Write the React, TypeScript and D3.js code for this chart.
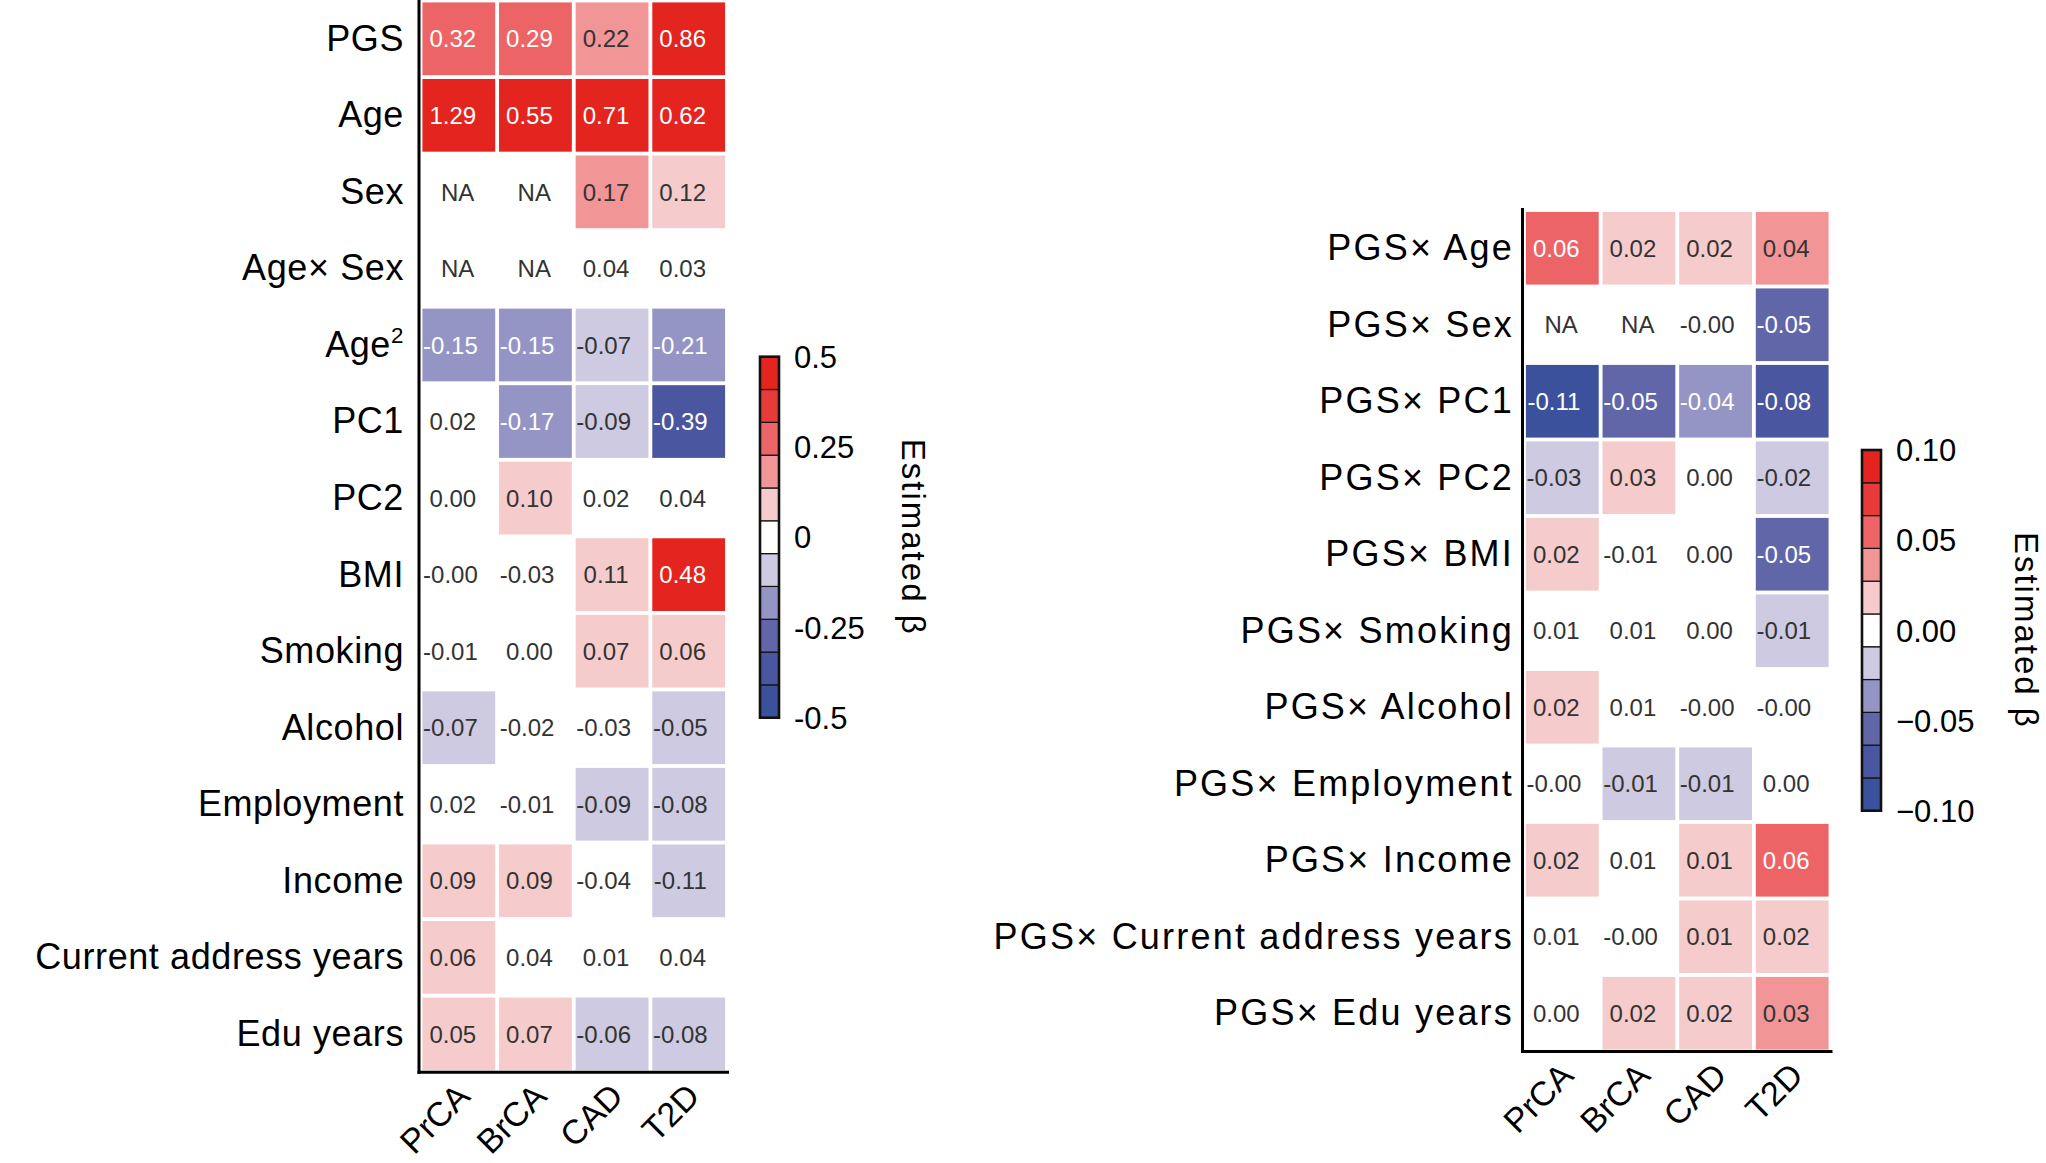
import React from 'react';
import * as d3 from 'd3';

// ---------- data ----------
const diseases = ['PrCA', 'BrCA', 'CAD', 'T2D'];

const mainRows = ['PGS', 'Age', 'Sex', 'Age× Sex', 'Age²', 'PC1', 'PC2', 'BMI', 'Smoking', 'Alcohol', 'Employment', 'Income', 'Current address years', 'Edu years'];
const prcaMain = [0.316, 1.29, null, null, -0.15, 0.02, 0.0, -0.002, -0.01, -0.07, 0.02, 0.09, 0.06, 0.05];
const brcaMain = [0.29, 0.55, null, null, -0.15, -0.17, 0.1, -0.03, 0.0, -0.02, -0.01, 0.09, 0.04, 0.07];
const cadMain = [0.22, 0.71, 0.17, 0.04, -0.07, -0.09, 0.02, 0.11, 0.07, -0.03, -0.09, -0.04, 0.01, -0.06];
const t2dMain = [0.86, 0.62, 0.12, 0.03, -0.21, -0.39, 0.04, 0.48, 0.06, -0.05, -0.08, -0.11, 0.04, -0.08];

const intRows = ['PGS× Age', 'PGS× Sex', 'PGS× PC1', 'PGS× PC2', 'PGS× BMI', 'PGS× Smoking', 'PGS× Alcohol', 'PGS× Employment', 'PGS× Income', 'PGS× Current address years', 'PGS× Edu years'];
const prcaInt = [0.06, null, -0.11, -0.026, 0.02, 0.008, 0.02, -0.002, 0.02, 0.008, 0.002];
const brcaInt = [0.02, null, -0.05, 0.026, -0.008, 0.008, 0.008, -0.011, 0.008, -0.002, 0.02];
const cadInt = [0.02, -0.002, -0.04, 0.002, 0.002, 0.002, -0.002, -0.011, 0.011, 0.011, 0.02];
const t2dInt = [0.04, -0.05, -0.08, -0.02, -0.05, -0.011, -0.002, 0.002, 0.06, 0.02, 0.03];

const mainTicks = [-0.5, -0.25, 0, 0.25, 0.5];
const mainTickLabels = ['-0.5', '-0.25', '0', '0.25', '0.5'];
const intTicks = [-0.1, -0.05, 0, 0.05, 0.1];
const intTickLabels = ['−0.10', '−0.05', '0.00', '0.05', '0.10'];

const palette = ['#3B519C', '#4A56A0', '#6166A9', '#9595C5', '#CDCAE1', '#FFFFFF', '#F5CCCB', '#F19597', '#EC6466', '#E83A38', '#E4241F'];

const FONT = 'Liberation Sans, Arial, Helvetica, sans-serif';

type Cell = { r: number; c: number; v: number | null };

function buildCells(cols: (number | null)[][]): Cell[] {
  const out: Cell[] = [];
  cols.forEach((col, c) => col.forEach((v, r) => out.push({ r, c, v })));
  return out;
}

function fmt(v: number) {
  return v.toFixed(2);
}

function RowLabel({ text, x, y, size, spacing }: { text: string; x: number; y: number; size: number; spacing: number }) {
  if (text.endsWith('²')) {
    return (
      <text x={x} y={y} dy="0.33em" textAnchor="end" fontSize={size} fontFamily={FONT} letterSpacing={spacing} fill="#000">
        {text.slice(0, -1)}
        <tspan fontSize={size * 0.62} dy={-size * 0.38}>2</tspan>
      </text>
    );
  }
  return (
    <text x={x} y={y} dy="0.33em" textAnchor="end" fontSize={size} fontFamily={FONT} letterSpacing={spacing} fill="#000">
      {text}
    </text>
  );
}

function Heatmap(props: {
  rows: string[];
  cols: (number | null)[][];
  xr: [number, number];
  yr: [number, number];
  labelX: number;
  labelSpacing: number;
  domain: [number, number];
}) {
  const { rows, cols, xr, yr, labelX, labelSpacing, domain } = props;
  const x = d3.scaleBand<string>().domain(diseases).range(xr).paddingInner(0.05).paddingOuter(0.025);
  const y = d3.scaleBand<string>().domain(rows).range(yr).paddingInner(0.05).paddingOuter(0.025);
  const color = d3.scaleQuantize<string>().domain(domain).range(palette);
  const cells = buildCells(cols);
  const axisX = xr[0] - 1.5;
  const axisY = yr[1];
  return (
    <g>
      {cells.map((d, i) => {
        const cx = (x(diseases[d.c]) as number) + x.bandwidth() / 2;
        const cy = (y(rows[d.r]) as number) + y.bandwidth() / 2;
        const col = d.v === null ? '#FFFFFF' : color(d.v);
        const txt = d.v === null ? 'NA' : fmt(d.v);
        const light = d3.lab(col).l > 67;
        const dx = -(txt.length - 1.5) * 2.4;
        return (
          <g key={i}>
            {d.v !== null && (
              <rect x={x(diseases[d.c])} y={y(rows[d.r])} width={x.bandwidth()} height={y.bandwidth()} fill={col} />
            )}
            <text x={cx + dx} y={cy} dy="0.36em" textAnchor="middle" fontSize={24} fontFamily={FONT} fill={light ? '#333333' : '#FFFFFF'}>
              {txt}
            </text>
          </g>
        );
      })}
      <line x1={axisX} x2={axisX} y1={yr[0] - 2} y2={axisY + 1.5} stroke="#000" strokeWidth={3} />
      <line x1={axisX - 1.5} x2={xr[1] + 2} y1={axisY} y2={axisY} stroke="#000" strokeWidth={3} />
      {rows.map((r) => (
        <RowLabel key={r} text={r} x={labelX} y={(y(r) as number) + y.bandwidth() / 2} size={36} spacing={labelSpacing} />
      ))}
      {diseases.map((dz) => {
        const cx = (x(dz) as number) + x.bandwidth() / 2;
        return (
          <text key={dz} transform={`translate(${cx + 13},${axisY + 26}) rotate(-45)`} textAnchor="end" fontSize={34} fontFamily={FONT} fill="#000">
            {dz}
          </text>
        );
      })}
    </g>
  );
}

function ColorBar(props: {
  x: number;
  y0: number;
  y1: number;
  domain: [number, number];
  ticks: number[];
  labels: string[];
  titleX: number;
}) {
  const { x, y0, y1, domain, ticks, labels, titleX } = props;
  const w = 19;
  const s = d3.scaleLinear().domain(domain).range([y1, y0]);
  const n = palette.length;
  const step = (domain[1] - domain[0]) / n;
  const bins = palette.map((c, i) => ({ c, lo: domain[0] + i * step, hi: domain[0] + (i + 1) * step }));
  return (
    <g>
      {bins.map((b, i) => (
        <rect key={i} x={x} y={s(b.hi)} width={w} height={s(b.lo) - s(b.hi)} fill={b.c} stroke="#111" strokeWidth={1.2} />
      ))}
      <rect x={x} y={y0} width={w} height={y1 - y0} fill="none" stroke="#111" strokeWidth={2.6} />
      {ticks.map((t, i) => (
        <text key={t} x={x + 34} y={s(t)} dy="0.36em" fontSize={31} fontFamily={FONT} fill="#000">
          {labels[i]}
        </text>
      ))}
      <text
        transform={`translate(${titleX},${(y0 + y1) / 2}) rotate(90)`}
        textAnchor="middle"
        fontSize={33}
        letterSpacing={2}
        fontFamily={FONT}
        fill="#000"
      >
        Estimated β
      </text>
    </g>
  );
}

export default function App() {
  return (
    <svg width={2046} height={1163} style={{ position: 'absolute', left: 0, top: 0, background: '#fff' }}>
      <rect width={2046} height={1163} fill="#fff" />
      <Heatmap
        rows={mainRows}
        cols={[prcaMain, brcaMain, cadMain, t2dMain]}
        xr={[420.5, 727]}
        yr={[0.5, 1072.2]}
        labelX={404}
        labelSpacing={0.6}
        domain={[-0.5, 0.5]}
      />
      <ColorBar x={760} y0={356.7} y1={717.7} domain={[-0.5, 0.5]} ticks={mainTicks} labels={mainTickLabels} titleX={902} />
      <Heatmap
        rows={intRows}
        cols={[prcaInt, brcaInt, cadInt, t2dInt]}
        xr={[1524, 1830.5]}
        yr={[210, 1051.5]}
        labelX={1514}
        labelSpacing={2.2}
        domain={[-0.1, 0.1]}
      />
      <ColorBar x={1862} y0={450} y1={810.7} domain={[-0.1, 0.1]} ticks={intTicks} labels={intTickLabels} titleX={2015} />
    </svg>
  );
}
